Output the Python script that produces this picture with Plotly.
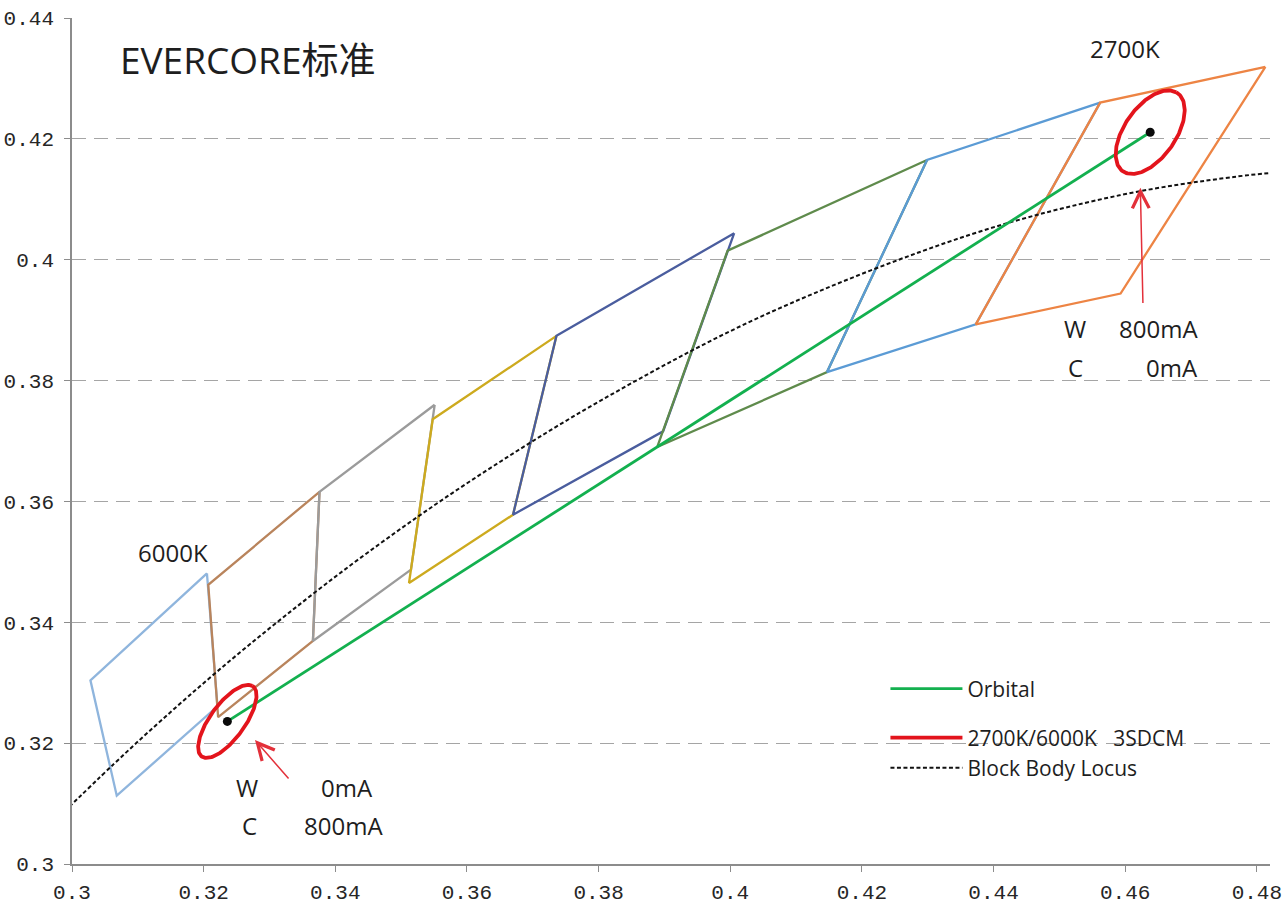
import numpy as np
import plotly.graph_objects as go

# ---------------- data ----------------
# ANSI quadrangles (corner order: top-right, top-left, bottom-left, bottom-right)
bin_names = ["6500K", "5700K", "5000K", "4500K", "4000K", "3500K", "3000K", "2700K"]
bin_x = [
    [0.3205, 0.3028, 0.3068, 0.3221],
    [0.3376, 0.3207, 0.3222, 0.3366],
    [0.3551, 0.3376, 0.3366, 0.3515],
    [0.3736, 0.3548, 0.3512, 0.3670],
    [0.4006, 0.3736, 0.3670, 0.3898],
    [0.4299, 0.3996, 0.3889, 0.4147],
    [0.4562, 0.4299, 0.4147, 0.4373],
    [0.4813, 0.4562, 0.4373, 0.4593],
]
bin_y = [
    [0.3481, 0.3304, 0.3113, 0.3261],
    [0.3616, 0.3462, 0.3243, 0.3369],
    [0.3760, 0.3616, 0.3369, 0.3487],
    [0.3874, 0.3736, 0.3465, 0.3578],
    [0.4044, 0.3874, 0.3578, 0.3716],
    [0.4165, 0.4015, 0.3690, 0.3814],
    [0.4260, 0.4165, 0.3814, 0.3893],
    [0.4319, 0.4260, 0.3893, 0.3944],
]
bin_colors = ["#8FB5DD", "#B9845C", "#9B9B9B", "#CDAA1E",
              "#4A5D9E", "#5F8B4C", "#5B9BD5", "#ED8444"]

# black body (Planckian) locus
locus_cct = [2400, 2500, 2700, 3000, 3500, 4000, 4500, 5000, 5500, 6000, 6500, 7000, 8000]
locus_x = [0.4857, 0.4765, 0.4593, 0.4366, 0.4053, 0.3805, 0.3607, 0.3450,
           0.3323, 0.3220, 0.3135, 0.3064, 0.2952]
locus_y = [0.4147, 0.4137, 0.4107, 0.4042, 0.3909, 0.3768, 0.3635, 0.3516,
           0.3410, 0.3318, 0.3237, 0.3166, 0.3048]

# orbital end points (W/C currents)
orbit_names = ["6000K", "2700K"]
orbit_x = [0.3236, 0.4638]
orbit_y = [0.3236, 0.4211]

# 3-step MacAdam ellipses around the end points
ell_a = [0.0070, 0.0077]
ell_b = [0.0027, 0.0040]
ell_theta = [57, 59]  # degrees

x_ticks = [0.3, 0.32, 0.34, 0.36, 0.38, 0.4, 0.42, 0.44, 0.46, 0.48]
x_tick_text = ["0.3", "0.32", "0.34", "0.36", "0.38", "0.4", "0.42", "0.44", "0.46", "0.48"]
y_ticks = [0.3, 0.32, 0.34, 0.36, 0.38, 0.4, 0.42, 0.44]
y_tick_text = ["0.3", "0.32", "0.34", "0.36", "0.38", "0.4", "0.42", "0.44"]

# ---------------- figure ----------------
fig = go.Figure()

for name, xs, ys, col in zip(bin_names, bin_x, bin_y, bin_colors):
    fig.add_trace(go.Scatter(
        x=xs + [xs[0]], y=ys + [ys[0]], mode="lines", name=name,
        line=dict(color=col, width=2.3), showlegend=False, hoverinfo="skip"))

fig.add_trace(go.Scatter(
    x=locus_x, y=locus_y, mode="lines", name="Block Body Locus",
    line=dict(color="#111111", width=2, dash="4px,2.5px", shape="spline"),
    legend="legend3"))

fig.add_trace(go.Scatter(
    x=orbit_x, y=orbit_y, mode="lines", name="Orbital",
    line=dict(color="#13B04F", width=2.8), legend="legend"))

t = np.linspace(0, 2 * np.pi, 181)
for i, (cx, cy, a, b, th) in enumerate(zip(orbit_x, orbit_y, ell_a, ell_b, ell_theta)):
    th_r = np.deg2rad(th)
    ex = cx + a * np.cos(t) * np.cos(th_r) - b * np.sin(t) * np.sin(th_r)
    ey = cy + a * np.cos(t) * np.sin(th_r) + b * np.sin(t) * np.cos(th_r)
    fig.add_trace(go.Scatter(
        x=ex, y=ey, mode="lines", name="2700K/6000K\u00a0\u00a0\u00a03SDCM",
        line=dict(color="#E3141C", width=3.8), legend="legend2",
        showlegend=(i == 0)))

fig.add_trace(go.Scatter(
    x=orbit_x, y=orbit_y, mode="markers", showlegend=False,
    marker=dict(color="#0A0A0A", size=9)))

txt_font = dict(family="Open Sans, Noto Sans CJK SC", size=24, color="#1E1E1E")
ann = []
ann.append(dict(x=0.3070, y=0.4332, text="EVERCORE标准", xanchor="left", yanchor="middle",
                font=dict(family="Open Sans, Noto Sans CJK SC", size=37, color="#1E1E1E")))
ann.append(dict(x=0.4600, y=0.4350, text="2700K", xanchor="center", yanchor="middle", font=txt_font))
ann.append(dict(x=0.31535, y=0.3515, text="6000K", xanchor="center", yanchor="middle", font=txt_font))
# lower-left current labels
ann.append(dict(x=0.3266, y=0.3126, text="W", xanchor="center", yanchor="middle", font=txt_font))
ann.append(dict(x=0.3460, y=0.3126, text="0mA", xanchor="right", yanchor="middle", font=txt_font))
ann.append(dict(x=0.3269, y=0.3063, text="C", xanchor="center", yanchor="middle", font=txt_font))
ann.append(dict(x=0.3476, y=0.3063, text="800mA", xanchor="right", yanchor="middle", font=txt_font))
# upper-right current labels
ann.append(dict(x=0.4524, y=0.3887, text="W", xanchor="center", yanchor="middle", font=txt_font))
ann.append(dict(x=0.4714, y=0.3887, text="800mA", xanchor="right", yanchor="middle", font=txt_font))
ann.append(dict(x=0.4524, y=0.3821, text="C", xanchor="center", yanchor="middle", font=txt_font))
ann.append(dict(x=0.4714, y=0.3821, text="0mA", xanchor="right", yanchor="middle", font=txt_font))
for a_ in ann:
    a_.update(xref="x", yref="y", showarrow=False)

# red arrows
ann.append(dict(x=0.3278, y=0.3205, ax=0.3331, ay=0.3139, xref="x", yref="y",
                axref="x", ayref="y", text="", showarrow=True, arrowhead=5,
                arrowsize=2.2, arrowwidth=1.5, arrowcolor="#E3303A"))
ann.append(dict(x=0.4623, y=0.4119, ax=0.4627, ay=0.3926, xref="x", yref="y",
                axref="x", ayref="y", text="", showarrow=True, arrowhead=5,
                arrowsize=2.2, arrowwidth=1.5, arrowcolor="#E3303A"))

leg_font = dict(family="Open Sans", size=21, color="#1E1E1E")
leg_common = dict(xanchor="left", yanchor="middle", bgcolor="rgba(0,0,0,0)",
                  font=leg_font, itemwidth=72, borderwidth=0)

tick_font = dict(family="Liberation Mono", size=21, color="#262626")

fig.update_layout(
    width=1288, height=909,
    margin=dict(l=72, r=18, t=18, b=45),
    paper_bgcolor="white", plot_bgcolor="white",
    annotations=ann,
    legend=dict(x=0.679, y=0.2069, **leg_common),
    legend2=dict(x=0.679, y=0.1489, **leg_common),
    legend3=dict(x=0.679, y=0.1135, **leg_common),
    xaxis=dict(range=[0.3, 0.482], tickvals=x_ticks, ticktext=x_tick_text,
               showgrid=False, zeroline=False, showline=True, linecolor="#8C8C8C",
               linewidth=1.6, ticks="outside", ticklen=6, tickcolor="#8C8C8C",
               tickfont=tick_font, ticklabelstandoff=2, automargin=False),
    yaxis=dict(range=[0.3, 0.44], tickvals=y_ticks, ticktext=y_tick_text,
               showgrid=True, gridcolor="#A5A5A5", gridwidth=1.4, griddash="14px,8px",
               zeroline=False, showline=True, linecolor="#8C8C8C", linewidth=1.6,
               ticks="outside", ticklen=6, tickcolor="#8C8C8C",
               tickfont=tick_font, ticklabelstandoff=6, automargin=False),
)

fig.write_html("out.html", include_plotlyjs=True, config={"displayModeBar": False},
               post_script="document.body.style.margin='0';document.body.style.overflow='hidden';")
